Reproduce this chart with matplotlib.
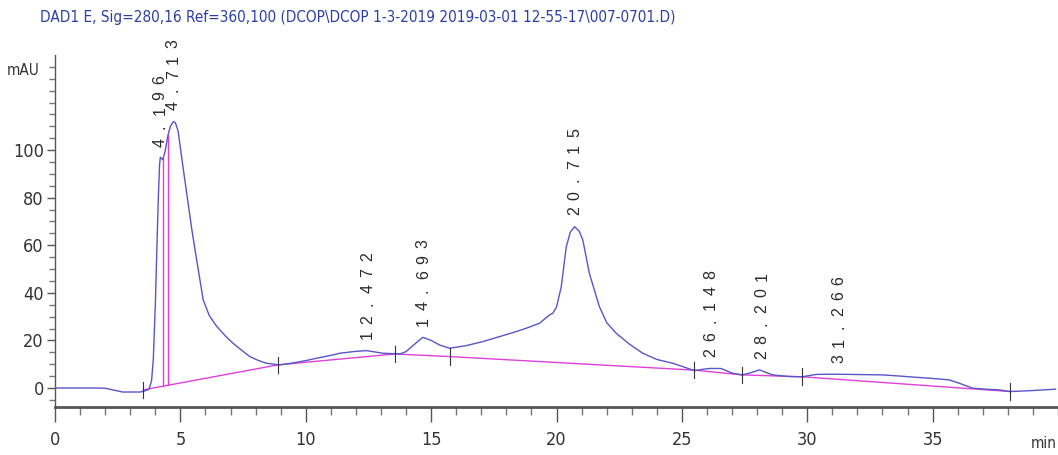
import numpy as np
import matplotlib.pyplot as plt

title = "DAD1 E, Sig=280,16 Ref=360,100 (DCOP\\DCOP 1-3-2019 2019-03-01 12-55-17\\007-0701.D)"

# signal trace (min, mAU)
time_min = [0.0, 1.5, 2.0, 2.3, 2.7, 3.4, 3.6, 3.75, 3.85, 3.92, 4.0, 4.05, 4.12, 4.17, 4.2,
            4.3, 4.4, 4.5, 4.6, 4.72, 4.8, 4.91, 5.05, 5.25, 5.45, 5.65, 5.91, 6.15, 6.44,
            6.8, 7.1, 7.45, 7.77, 8.1, 8.43, 8.96, 9.43, 10.0, 10.43, 11.09, 11.35, 12.0,
            12.42, 13.08, 13.75, 14.0, 14.35, 14.67, 15.0, 15.35, 15.74, 16.4, 17.06, 17.73,
            18.39, 18.79, 19.32, 19.72, 19.85, 20.0, 20.19, 20.39, 20.55, 20.72, 20.9, 21.05,
            21.31, 21.71, 22.0, 22.38, 22.9, 23.44, 24.0, 24.63, 25.03, 25.5, 25.8, 26.1,
            26.56, 27.02, 27.4, 27.69, 28.09, 28.62, 29.28, 29.8, 30.35, 31.0, 31.67, 32.3,
            33.0, 33.7, 34.33, 35.0, 35.66, 36.06, 36.6, 37.1, 37.65, 38.1, 38.96, 39.9]
signal_mau = [0.0, 0.0, -0.1, -0.8, -1.7, -1.7, -1.2, -0.5, 3.0, 12.0, 35.0, 54.0, 80.0, 94.0, 97.0,
              96.0, 100.0, 106.0, 110.0, 112.0, 111.5, 108.0, 97.0, 82.0, 67.0, 53.8, 37.0, 30.5, 26.0,
              21.8, 18.8, 15.8, 13.2, 11.6, 10.4, 9.7, 10.4, 11.5, 12.5, 13.9, 14.6, 15.4,
              15.7, 14.6, 14.3, 15.3, 18.5, 21.3, 20.0, 18.0, 16.7, 17.8, 19.5, 21.6,
              23.7, 25.1, 27.2, 30.7, 31.4, 34.0, 42.6, 59.4, 65.5, 67.8, 66.0, 62.2,
              48.2, 34.2, 27.5, 23.0, 18.5, 14.6, 12.0, 10.4, 9.0, 7.3, 7.8, 8.2,
              8.2, 6.2, 5.5, 6.2, 7.6, 5.5, 4.8, 4.7, 5.7, 5.8, 5.7, 5.6,
              5.5, 5.0, 4.5, 4.0, 3.4, 2.0, -0.1, -0.5, -0.8, -1.5, -1.1, -0.5]

# integration baseline break points
base_t = [3.52, 8.88, 13.55, 15.74, 25.5, 27.4, 29.8, 38.1]
base_v = [-0.8, 9.7, 14.3, 13.2, 7.5, 5.5, 4.7, -1.5]

# drop lines between the first peaks
drop_t = [4.29, 4.51]

peak_rt = [4.196, 4.713, 12.472, 14.693, 20.715, 26.148, 28.201, 31.266]
peak_labels = ["4.196", "4.713", "12.472", "14.693", "20.715", "26.148", "28.201", "31.266"]

plt.rcParams["font.family"] = ["DejaVu Sans"]
plt.rcParams["font.stretch"] = "condensed"

fig = plt.figure(figsize=(10.58, 4.55), dpi=100)
ax = fig.add_axes([0.052, 0.1055, 0.948, 0.7736])

ax.plot(time_min, signal_mau, color="#5656c8", lw=1.0, zorder=3)
ax.plot(base_t, base_v, color="#e040d8", lw=1.0, zorder=2)

for t in drop_t:
    top = np.interp(t, time_min, signal_mau)
    bot = np.interp(t, base_t, base_v)
    ax.plot([t, t], [bot, top], color="#e040d8", lw=1.0, zorder=2)

# baseline tick marks
for t, v in zip(base_t, base_v):
    ax.plot([t, t], [v - 3.5, v + 3.5], color="#333333", lw=0.8, zorder=4)

# peak labels, spaced characters like the instrument software
pitch = 11.2
for rt, lab in zip(peak_rt, peak_labels):
    apex = np.interp(rt, time_min, signal_mau)
    for i, ch in enumerate(lab):
        ax.annotate(ch, (rt, apex), xytext=(0, 6 + (i + 0.5) * pitch),
                    textcoords="offset points", rotation=90, ha="center", va="center",
                    fontsize=11.5, family=["Liberation Sans", "DejaVu Sans"], stretch="normal",
                    color="#2a2a2a", annotation_clip=False, zorder=5)

ax.set_xlim(0, 40)
ax.set_ylim(-8, 140)

for s in ["top", "right"]:
    ax.spines[s].set_visible(False)
ax.spines["left"].set_color("#555555")
ax.spines["bottom"].set_color("#555555")
ax.spines["bottom"].set_linewidth(2.0)
ax.spines["left"].set_linewidth(1.0)

ax.set_xticks(np.arange(0, 40, 5))
ax.set_xticks(np.arange(0, 41, 1), minor=True)
ax.set_yticks(np.arange(0, 101, 20))
ax.set_yticks(np.arange(-5, 140, 5), minor=True)
ax.tick_params(axis="x", which="major", length=11, width=1, color="#555555",
               labelsize=13, labelcolor="#333333", pad=6)
ax.tick_params(axis="x", which="minor", length=6, width=1, color="#777777")
ax.tick_params(axis="y", which="major", length=6, width=1, color="#555555",
               labelsize=13, labelcolor="#333333", pad=2)
ax.tick_params(axis="y", which="minor", length=4, width=1, color="#777777")

ax.text(-0.6, 133.5, "mAU", ha="right", va="center", fontsize=11, color="#333333")
ax.annotate("min", (39.45, -8), xytext=(0, -26), textcoords="offset points",
            ha="center", va="center", fontsize=11, color="#333333", annotation_clip=False)

fig.text(0.038, 0.962, title, ha="left", va="center", fontsize=11, color="#2b3ea8")

fig.savefig("out.png", dpi=100)
